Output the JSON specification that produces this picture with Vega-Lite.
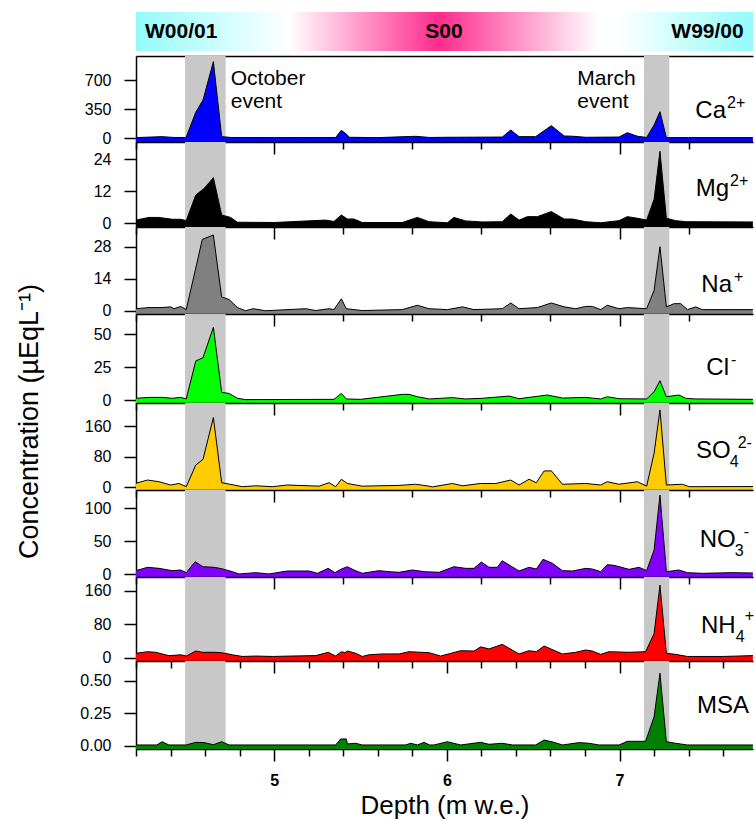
{
  "$schema": "https://vega.github.io/schema/vega-lite/v6.json",
  "padding": {"left": 14, "top": 12, "right": 0, "bottom": 2},
  "config": {
    "font": "Liberation Sans",
    "view": {"stroke": null},
    "axis": {"domainColor": "black", "domainWidth": 1.5, "tickColor": "black", "tickWidth": 1.5, "labelColor": "black", "labelFont": "Liberation Sans", "titleFont": "Liberation Sans", "titleColor": "black", "grid": false, "zindex": 1, "labelFontSize": 16, "titleFontWeight": "normal"},
    "text": {"font": "Liberation Sans", "color": "black"}
  },
  "datasets": {
    "events": [{"event": "October", "start": 4.484, "end": 4.719}, {"event": "March", "start": 7.141, "end": 7.288}],
    "ions": [
      {"ion":"Ca","depth":4.2,"conc":8},{"ion":"Ca","depth":4.35,"conc":20},{"ion":"Ca","depth":4.42,"conc":10},{"ion":"Ca","depth":4.49,"conc":10},{"ion":"Ca","depth":4.546,"conc":315},{"ion":"Ca","depth":4.588,"conc":463},{"ion":"Ca","depth":4.648,"conc":927},{"ion":"Ca","depth":4.696,"conc":20},{"ion":"Ca","depth":4.75,"conc":10},{"ion":"Ca","depth":5.0,"conc":8},{"ion":"Ca","depth":5.356,"conc":10},{"ion":"Ca","depth":5.389,"conc":97},{"ion":"Ca","depth":5.418,"conc":52},{"ion":"Ca","depth":5.435,"conc":12},{"ion":"Ca","depth":5.6,"conc":8},{"ion":"Ca","depth":5.82,"conc":24},{"ion":"Ca","depth":5.9,"conc":10},{"ion":"Ca","depth":6.0,"conc":12},{"ion":"Ca","depth":6.321,"conc":15},{"ion":"Ca","depth":6.37,"conc":100},{"ion":"Ca","depth":6.418,"conc":20},{"ion":"Ca","depth":6.514,"conc":20},{"ion":"Ca","depth":6.605,"conc":153},{"ion":"Ca","depth":6.679,"conc":28},{"ion":"Ca","depth":6.727,"conc":25},{"ion":"Ca","depth":6.804,"conc":12},{"ion":"Ca","depth":6.997,"conc":15},{"ion":"Ca","depth":7.045,"conc":68},{"ion":"Ca","depth":7.103,"conc":25},{"ion":"Ca","depth":7.157,"conc":10},{"ion":"Ca","depth":7.2,"conc":161},{"ion":"Ca","depth":7.234,"conc":322},{"ion":"Ca","depth":7.271,"conc":8},{"ion":"Ca","depth":7.4,"conc":8},{"ion":"Ca","depth":7.772,"conc":8},
      {"ion":"Mg","depth":4.2,"conc":1.2},{"ion":"Mg","depth":4.275,"conc":2.2},{"ion":"Mg","depth":4.333,"conc":2.2},{"ion":"Mg","depth":4.41,"conc":1.5},{"ion":"Mg","depth":4.459,"conc":1.5},{"ion":"Mg","depth":4.491,"conc":1.0},{"ion":"Mg","depth":4.546,"conc":10.6},{"ion":"Mg","depth":4.594,"conc":13},{"ion":"Mg","depth":4.648,"conc":17.1},{"ion":"Mg","depth":4.696,"conc":3.1},{"ion":"Mg","depth":4.748,"conc":2.2},{"ion":"Mg","depth":4.787,"conc":0.4},{"ion":"Mg","depth":5.0,"conc":0.3},{"ion":"Mg","depth":5.298,"conc":1.2},{"ion":"Mg","depth":5.346,"conc":0.7},{"ion":"Mg","depth":5.389,"conc":3.1},{"ion":"Mg","depth":5.424,"conc":1.6},{"ion":"Mg","depth":5.462,"conc":1.6},{"ion":"Mg","depth":5.51,"conc":0.3},{"ion":"Mg","depth":5.742,"conc":0.3},{"ion":"Mg","depth":5.829,"conc":2.2},{"ion":"Mg","depth":5.897,"conc":0.6},{"ion":"Mg","depth":6.003,"conc":0.2},{"ion":"Mg","depth":6.041,"conc":2.2},{"ion":"Mg","depth":6.109,"conc":0.9},{"ion":"Mg","depth":6.205,"conc":0.5},{"ion":"Mg","depth":6.321,"conc":0.6},{"ion":"Mg","depth":6.37,"conc":3.5},{"ion":"Mg","depth":6.418,"conc":1.2},{"ion":"Mg","depth":6.466,"conc":2.5},{"ion":"Mg","depth":6.524,"conc":2.5},{"ion":"Mg","depth":6.605,"conc":4.4},{"ion":"Mg","depth":6.679,"conc":1.6},{"ion":"Mg","depth":6.727,"conc":1.6},{"ion":"Mg","depth":6.804,"conc":0.6},{"ion":"Mg","depth":6.891,"conc":0.2},{"ion":"Mg","depth":6.997,"conc":1.0},{"ion":"Mg","depth":7.045,"conc":2.5},{"ion":"Mg","depth":7.103,"conc":1.9},{"ion":"Mg","depth":7.157,"conc":1.2},{"ion":"Mg","depth":7.2,"conc":9},{"ion":"Mg","depth":7.234,"conc":27},{"ion":"Mg","depth":7.271,"conc":1.9},{"ion":"Mg","depth":7.325,"conc":1.0},{"ion":"Mg","depth":7.383,"conc":0.6},{"ion":"Mg","depth":7.772,"conc":0.5},
      {"ion":"Na","depth":4.2,"conc":1.0},{"ion":"Na","depth":4.275,"conc":1.5},{"ion":"Na","depth":4.35,"conc":1.5},{"ion":"Na","depth":4.401,"conc":1.8},{"ion":"Na","depth":4.42,"conc":1.0},{"ion":"Na","depth":4.459,"conc":2.0},{"ion":"Na","depth":4.491,"conc":0.6},{"ion":"Na","depth":4.584,"conc":31.2},{"ion":"Na","depth":4.648,"conc":33.1},{"ion":"Na","depth":4.696,"conc":6.1},{"ion":"Na","depth":4.739,"conc":5.0},{"ion":"Na","depth":4.787,"conc":1.5},{"ion":"Na","depth":4.835,"conc":0.1},{"ion":"Na","depth":4.877,"conc":1.0},{"ion":"Na","depth":4.951,"conc":0.1},{"ion":"Na","depth":5.183,"conc":1.0},{"ion":"Na","depth":5.241,"conc":0.2},{"ion":"Na","depth":5.318,"conc":1.0},{"ion":"Na","depth":5.346,"conc":0.6},{"ion":"Na","depth":5.389,"conc":5.3},{"ion":"Na","depth":5.418,"conc":1.0},{"ion":"Na","depth":5.51,"conc":0.2},{"ion":"Na","depth":5.742,"conc":0.6},{"ion":"Na","depth":5.829,"conc":2.5},{"ion":"Na","depth":5.897,"conc":1.0},{"ion":"Na","depth":6.003,"conc":0.6},{"ion":"Na","depth":6.09,"conc":1.8},{"ion":"Na","depth":6.157,"conc":0.6},{"ion":"Na","depth":6.321,"conc":1.0},{"ion":"Na","depth":6.37,"conc":3.5},{"ion":"Na","depth":6.418,"conc":1.0},{"ion":"Na","depth":6.524,"conc":1.5},{"ion":"Na","depth":6.605,"conc":3.5},{"ion":"Na","depth":6.679,"conc":1.8},{"ion":"Na","depth":6.746,"conc":1.0},{"ion":"Na","depth":6.804,"conc":2.0},{"ion":"Na","depth":6.842,"conc":2.0},{"ion":"Na","depth":6.891,"conc":0.6},{"ion":"Na","depth":6.929,"conc":2.5},{"ion":"Na","depth":6.997,"conc":1.0},{"ion":"Na","depth":7.045,"conc":1.5},{"ion":"Na","depth":7.157,"conc":1.0},{"ion":"Na","depth":7.2,"conc":9.0},{"ion":"Na","depth":7.234,"conc":28},{"ion":"Na","depth":7.271,"conc":1.8},{"ion":"Na","depth":7.316,"conc":3.2},{"ion":"Na","depth":7.354,"conc":3.2},{"ion":"Na","depth":7.393,"conc":0.6},{"ion":"Na","depth":7.441,"conc":1.8},{"ion":"Na","depth":7.479,"conc":0.6},{"ion":"Na","depth":7.772,"conc":0.6},
      {"ion":"Cl","depth":4.2,"conc":1.3},{"ion":"Cl","depth":4.275,"conc":2.0},{"ion":"Cl","depth":4.35,"conc":2.0},{"ion":"Cl","depth":4.41,"conc":1.3},{"ion":"Cl","depth":4.459,"conc":2.0},{"ion":"Cl","depth":4.491,"conc":0.8},{"ion":"Cl","depth":4.546,"conc":29.7},{"ion":"Cl","depth":4.588,"conc":32.2},{"ion":"Cl","depth":4.648,"conc":55.3},{"ion":"Cl","depth":4.696,"conc":5.8},{"ion":"Cl","depth":4.739,"conc":5.0},{"ion":"Cl","depth":4.787,"conc":1.3},{"ion":"Cl","depth":4.835,"conc":0.3},{"ion":"Cl","depth":5.346,"conc":0.5},{"ion":"Cl","depth":5.389,"conc":5.0},{"ion":"Cl","depth":5.418,"conc":0.8},{"ion":"Cl","depth":5.5,"conc":0.5},{"ion":"Cl","depth":5.742,"conc":4.3},{"ion":"Cl","depth":5.781,"conc":4.3},{"ion":"Cl","depth":5.829,"conc":2.5},{"ion":"Cl","depth":5.9,"conc":0.8},{"ion":"Cl","depth":6.032,"conc":1.8},{"ion":"Cl","depth":6.109,"conc":0.8},{"ion":"Cl","depth":6.205,"conc":1.3},{"ion":"Cl","depth":6.36,"conc":3.0},{"ion":"Cl","depth":6.418,"conc":1.0},{"ion":"Cl","depth":6.582,"conc":3.8},{"ion":"Cl","depth":6.67,"conc":1.5},{"ion":"Cl","depth":6.804,"conc":2.0},{"ion":"Cl","depth":6.891,"conc":0.8},{"ion":"Cl","depth":6.929,"conc":2.5},{"ion":"Cl","depth":6.997,"conc":1.0},{"ion":"Cl","depth":7.157,"conc":0.8},{"ion":"Cl","depth":7.2,"conc":6.3},{"ion":"Cl","depth":7.234,"conc":14.7},{"ion":"Cl","depth":7.271,"conc":2.5},{"ion":"Cl","depth":7.344,"conc":3.8},{"ion":"Cl","depth":7.383,"conc":1.3},{"ion":"Cl","depth":7.441,"conc":0.8},{"ion":"Cl","depth":7.772,"conc":0.5},
      {"ion":"SO4","depth":4.2,"conc":10.4},{"ion":"SO4","depth":4.266,"conc":19},{"ion":"SO4","depth":4.333,"conc":14.6},{"ion":"SO4","depth":4.401,"conc":6},{"ion":"SO4","depth":4.449,"conc":10},{"ion":"SO4","depth":4.491,"conc":1.6},{"ion":"SO4","depth":4.546,"conc":58},{"ion":"SO4","depth":4.588,"conc":73},{"ion":"SO4","depth":4.648,"conc":182},{"ion":"SO4","depth":4.696,"conc":12},{"ion":"SO4","depth":4.767,"conc":6},{"ion":"SO4","depth":4.816,"conc":1.6},{"ion":"SO4","depth":4.893,"conc":4},{"ion":"SO4","depth":4.99,"conc":1.6},{"ion":"SO4","depth":5.076,"conc":6},{"ion":"SO4","depth":5.202,"conc":4},{"ion":"SO4","depth":5.26,"conc":3},{"ion":"SO4","depth":5.318,"conc":12},{"ion":"SO4","depth":5.356,"conc":1.6},{"ion":"SO4","depth":5.389,"conc":21},{"ion":"SO4","depth":5.424,"conc":10},{"ion":"SO4","depth":5.51,"conc":3},{"ion":"SO4","depth":5.607,"conc":4},{"ion":"SO4","depth":5.723,"conc":5},{"ion":"SO4","depth":5.819,"conc":8},{"ion":"SO4","depth":5.897,"conc":3},{"ion":"SO4","depth":5.916,"conc":1},{"ion":"SO4","depth":6.032,"conc":10},{"ion":"SO4","depth":6.09,"conc":4},{"ion":"SO4","depth":6.196,"conc":10},{"ion":"SO4","depth":6.283,"conc":10},{"ion":"SO4","depth":6.37,"conc":19},{"ion":"SO4","depth":6.418,"conc":6},{"ion":"SO4","depth":6.476,"conc":21},{"ion":"SO4","depth":6.518,"conc":12},{"ion":"SO4","depth":6.563,"conc":42.6},{"ion":"SO4","depth":6.605,"conc":43},{"ion":"SO4","depth":6.669,"conc":8},{"ion":"SO4","depth":6.804,"conc":10},{"ion":"SO4","depth":6.891,"conc":6},{"ion":"SO4","depth":6.929,"conc":14.6},{"ion":"SO4","depth":6.997,"conc":8},{"ion":"SO4","depth":7.103,"conc":14.6},{"ion":"SO4","depth":7.157,"conc":3},{"ion":"SO4","depth":7.2,"conc":89},{"ion":"SO4","depth":7.234,"conc":202},{"ion":"SO4","depth":7.271,"conc":6},{"ion":"SO4","depth":7.364,"conc":8},{"ion":"SO4","depth":7.402,"conc":1.6},{"ion":"SO4","depth":7.772,"conc":2},
      {"ion":"NO3","depth":4.2,"conc":5.5},{"ion":"NO3","depth":4.266,"conc":10.6},{"ion":"NO3","depth":4.333,"conc":9},{"ion":"NO3","depth":4.41,"conc":5.5},{"ion":"NO3","depth":4.459,"conc":6.5},{"ion":"NO3","depth":4.491,"conc":2.5},{"ion":"NO3","depth":4.542,"conc":19},{"ion":"NO3","depth":4.588,"conc":11.5},{"ion":"NO3","depth":4.652,"conc":10.6},{"ion":"NO3","depth":4.696,"conc":8.5},{"ion":"NO3","depth":4.758,"conc":4},{"ion":"NO3","depth":4.796,"conc":0.5},{"ion":"NO3","depth":4.893,"conc":2.5},{"ion":"NO3","depth":4.97,"conc":0.5},{"ion":"NO3","depth":5.076,"conc":5},{"ion":"NO3","depth":5.202,"conc":5},{"ion":"NO3","depth":5.25,"conc":1.5},{"ion":"NO3","depth":5.313,"conc":9},{"ion":"NO3","depth":5.352,"conc":2.5},{"ion":"NO3","depth":5.389,"conc":8},{"ion":"NO3","depth":5.424,"conc":11.5},{"ion":"NO3","depth":5.462,"conc":6.5},{"ion":"NO3","depth":5.51,"conc":1.5},{"ion":"NO3","depth":5.607,"conc":5.5},{"ion":"NO3","depth":5.665,"conc":4},{"ion":"NO3","depth":5.723,"conc":3},{"ion":"NO3","depth":5.8,"conc":6.5},{"ion":"NO3","depth":5.87,"conc":4},{"ion":"NO3","depth":5.955,"conc":3},{"ion":"NO3","depth":6.041,"conc":11.5},{"ion":"NO3","depth":6.109,"conc":9},{"ion":"NO3","depth":6.157,"conc":9},{"ion":"NO3","depth":6.2,"conc":18.6},{"ion":"NO3","depth":6.244,"conc":10.6},{"ion":"NO3","depth":6.292,"conc":10.6},{"ion":"NO3","depth":6.321,"conc":20.6},{"ion":"NO3","depth":6.37,"conc":12.6},{"ion":"NO3","depth":6.418,"conc":5},{"ion":"NO3","depth":6.476,"conc":10.6},{"ion":"NO3","depth":6.518,"conc":8},{"ion":"NO3","depth":6.557,"conc":22.7},{"ion":"NO3","depth":6.611,"conc":16.7},{"ion":"NO3","depth":6.669,"conc":5.5},{"ion":"NO3","depth":6.727,"conc":5},{"ion":"NO3","depth":6.804,"conc":9},{"ion":"NO3","depth":6.842,"conc":8},{"ion":"NO3","depth":6.891,"conc":4},{"ion":"NO3","depth":6.929,"conc":14.6},{"ion":"NO3","depth":6.968,"conc":13.6},{"ion":"NO3","depth":7.055,"conc":7.5},{"ion":"NO3","depth":7.113,"conc":10.6},{"ion":"NO3","depth":7.157,"conc":5.5},{"ion":"NO3","depth":7.2,"conc":36.8},{"ion":"NO3","depth":7.234,"conc":120},{"ion":"NO3","depth":7.271,"conc":4},{"ion":"NO3","depth":7.344,"conc":6.5},{"ion":"NO3","depth":7.393,"conc":2.5},{"ion":"NO3","depth":7.48,"conc":1.5},{"ion":"NO3","depth":7.65,"conc":2.5},{"ion":"NO3","depth":7.772,"conc":2},
      {"ion":"NH4","depth":4.2,"conc":10.5},{"ion":"NH4","depth":4.266,"conc":14.4},{"ion":"NH4","depth":4.314,"conc":13},{"ion":"NH4","depth":4.391,"conc":4.8},{"ion":"NH4","depth":4.459,"conc":7},{"ion":"NH4","depth":4.491,"conc":4},{"ion":"NH4","depth":4.546,"conc":16},{"ion":"NH4","depth":4.584,"conc":13},{"ion":"NH4","depth":4.652,"conc":13},{"ion":"NH4","depth":4.696,"conc":12},{"ion":"NH4","depth":4.758,"conc":7},{"ion":"NH4","depth":4.816,"conc":3},{"ion":"NH4","depth":4.893,"conc":4},{"ion":"NH4","depth":4.99,"conc":3},{"ion":"NH4","depth":5.1,"conc":4},{"ion":"NH4","depth":5.241,"conc":5},{"ion":"NH4","depth":5.313,"conc":13},{"ion":"NH4","depth":5.356,"conc":4},{"ion":"NH4","depth":5.389,"conc":14.4},{"ion":"NH4","depth":5.41,"conc":12},{"ion":"NH4","depth":5.424,"conc":16},{"ion":"NH4","depth":5.472,"conc":10.5},{"ion":"NH4","depth":5.51,"conc":3},{"ion":"NH4","depth":5.549,"conc":7},{"ion":"NH4","depth":5.626,"conc":9},{"ion":"NH4","depth":5.723,"conc":9},{"ion":"NH4","depth":5.781,"conc":14.4},{"ion":"NH4","depth":5.897,"conc":12},{"ion":"NH4","depth":5.964,"conc":4},{"ion":"NH4","depth":6.08,"conc":16.8},{"ion":"NH4","depth":6.157,"conc":16},{"ion":"NH4","depth":6.196,"conc":26},{"ion":"NH4","depth":6.244,"conc":21},{"ion":"NH4","depth":6.321,"conc":32},{"ion":"NH4","depth":6.418,"conc":9},{"ion":"NH4","depth":6.476,"conc":16.8},{"ion":"NH4","depth":6.518,"conc":14.4},{"ion":"NH4","depth":6.563,"conc":28},{"ion":"NH4","depth":6.669,"conc":9},{"ion":"NH4","depth":6.746,"conc":13},{"ion":"NH4","depth":6.804,"conc":18.5},{"ion":"NH4","depth":6.842,"conc":16},{"ion":"NH4","depth":6.891,"conc":8},{"ion":"NH4","depth":6.939,"conc":14.4},{"ion":"NH4","depth":7.055,"conc":13},{"ion":"NH4","depth":7.151,"conc":14.4},{"ion":"NH4","depth":7.2,"conc":58},{"ion":"NH4","depth":7.234,"conc":174},{"ion":"NH4","depth":7.271,"conc":10.5},{"ion":"NH4","depth":7.325,"conc":8},{"ion":"NH4","depth":7.393,"conc":3},{"ion":"NH4","depth":7.6,"conc":3},{"ion":"NH4","depth":7.772,"conc":5},
      {"ion":"MSA","depth":4.2,"conc":0.008},{"ion":"MSA","depth":4.32,"conc":0.008},{"ion":"MSA","depth":4.352,"conc":0.033},{"ion":"MSA","depth":4.39,"conc":0.008},{"ion":"MSA","depth":4.491,"conc":0.008},{"ion":"MSA","depth":4.546,"conc":0.028},{"ion":"MSA","depth":4.594,"conc":0.026},{"ion":"MSA","depth":4.648,"conc":0.01},{"ion":"MSA","depth":4.696,"conc":0.033},{"ion":"MSA","depth":4.739,"conc":0.008},{"ion":"MSA","depth":5.356,"conc":0.008},{"ion":"MSA","depth":5.385,"conc":0.054},{"ion":"MSA","depth":5.418,"conc":0.054},{"ion":"MSA","depth":5.424,"conc":0.016},{"ion":"MSA","depth":5.472,"conc":0.021},{"ion":"MSA","depth":5.51,"conc":0.008},{"ion":"MSA","depth":5.76,"conc":0.008},{"ion":"MSA","depth":5.791,"conc":0.021},{"ion":"MSA","depth":5.83,"conc":0.008},{"ion":"MSA","depth":5.868,"conc":0.028},{"ion":"MSA","depth":5.9,"conc":0.008},{"ion":"MSA","depth":5.926,"conc":0.008},{"ion":"MSA","depth":6.003,"conc":0.033},{"ion":"MSA","depth":6.08,"conc":0.008},{"ion":"MSA","depth":6.196,"conc":0.028},{"ion":"MSA","depth":6.244,"conc":0.013},{"ion":"MSA","depth":6.321,"conc":0.021},{"ion":"MSA","depth":6.38,"conc":0.008},{"ion":"MSA","depth":6.514,"conc":0.008},{"ion":"MSA","depth":6.563,"conc":0.046},{"ion":"MSA","depth":6.621,"conc":0.028},{"ion":"MSA","depth":6.669,"conc":0.008},{"ion":"MSA","depth":6.766,"conc":0.026},{"ion":"MSA","depth":6.824,"conc":0.021},{"ion":"MSA","depth":6.88,"conc":0.008},{"ion":"MSA","depth":6.997,"conc":0.008},{"ion":"MSA","depth":7.045,"conc":0.036},{"ion":"MSA","depth":7.151,"conc":0.036},{"ion":"MSA","depth":7.2,"conc":0.225},{"ion":"MSA","depth":7.234,"conc":0.56},{"ion":"MSA","depth":7.271,"conc":0.033},{"ion":"MSA","depth":7.325,"conc":0.021},{"ion":"MSA","depth":7.393,"conc":0.008},{"ion":"MSA","depth":7.772,"conc":0.008}
    ]
  },
  "bounds": "flush",
  "spacing": 5,
  "vconcat": [
    {
      "width": 617, "height": 39,
      "layer": [
        {"data": {"values": [{"band": "season"}]},
         "mark": {"type": "rect", "color": {"gradient": "linear", "x1": 0, "y1": 0, "x2": 1, "y2": 0, "stops": [{"offset": 0, "color": "#93fbfb"}, {"offset": 0.248, "color": "#ffffff"}, {"offset": 0.262, "color": "#fff3f8"}, {"offset": 0.491, "color": "#ff2b8e"}, {"offset": 0.75, "color": "#ffffff"}, {"offset": 0.78, "color": "#ffffff"}, {"offset": 1, "color": "#93fbfb"}]}},
         "encoding": {"x": {"datum": 4.2, "type": "quantitative", "scale": {"domain": [4.2, 7.7727], "nice": false, "zero": false}, "axis": null}, "x2": {"datum": 7.7727}}},
        {"data": {"values": [{"t": "W00/01"}]}, "mark": {"type": "text", "align": "left", "baseline": "middle", "fontSize": 21, "fontWeight": "bold"},
         "encoding": {"x": {"datum": 4.252, "type": "quantitative", "axis": null}, "text": {"field": "t"}}},
        {"data": {"values": [{"t": "S00"}]}, "mark": {"type": "text", "align": "center", "baseline": "middle", "fontSize": 21, "fontWeight": "bold"},
         "encoding": {"x": {"datum": 5.983, "type": "quantitative", "axis": null}, "text": {"field": "t"}}},
        {"data": {"values": [{"t": "W99/00"}]}, "mark": {"type": "text", "align": "right", "baseline": "middle", "fontSize": 21, "fontWeight": "bold"},
         "encoding": {"x": {"datum": 7.719, "type": "quantitative", "axis": null}, "text": {"field": "t"}}}
      ]
    },
    {
      "bounds": "flush",
      "spacing": 0,
      "vconcat": [
        {
          "width": 617, "height": 86,
          "layer": [
            {"data": {"name": "events"}, "mark": {"type": "rect", "color": "#c8c8c8"},
             "encoding": {"x": {"field": "start", "type": "quantitative", "scale": {"domain": [4.2, 7.7727], "nice": false, "zero": false}}, "x2": {"field": "end"}}},
            {"data": {"name": "ions"}, "transform": [{"filter": "datum.ion === 'Ca'"}],
             "mark": {"type": "area", "color": "#0000ff", "opacity": 1, "line": {"color": "black", "strokeWidth": 1}},
             "encoding": {
               "x": {"field": "depth", "type": "quantitative", "scale": {"domain": [4.2, 7.7727], "nice": false, "zero": false}, "axis": {"orient": "top", "ticks": false, "labels": false, "title": null}},
               "y": {"field": "conc", "type": "quantitative", "scale": {"domain": [-45, 996], "nice": false, "zero": false},
                     "axis": {"values": [0, 175, 350, 525, 700, 875], "tickSize": {"condition": {"test": "abs(datum.value/350 - round(datum.value/350)) < 1e-6", "value": 12}, "value": 6}, "labelExpr": "abs(datum.value/350 - round(datum.value/350)) < 1e-6 ? datum.label : ''", "labelPadding": 13, "title": null}},
               "y2": {"datum": -45}}},
            {"data": {"values": [{"t": "Ca"}]}, "mark": {"type": "text", "align": "right", "baseline": "alphabetic", "fontSize": 24},
             "encoding": {"x": {"datum": 7.6163, "type": "quantitative"}, "y": {"datum": 242, "type": "quantitative"}, "text": {"field": "t"}}},
            {"data": {"values": [{"t": "2+"}]}, "mark": {"type": "text", "align": "left", "baseline": "alphabetic", "fontSize": 16, "dx": 1, "dy": -10},
             "encoding": {"x": {"datum": 7.6163, "type": "quantitative"}, "y": {"datum": 242, "type": "quantitative"}, "text": {"field": "t"}}},
            {"data": {"values": [{"t": ["October", "event"]}]}, "mark": {"type": "text", "align": "left", "baseline": "alphabetic", "fontSize": 21, "lineHeight": 23.3},
             "encoding": {"x": {"datum": 4.7484, "type": "quantitative"}, "y": {"datum": 645, "type": "quantitative"}, "text": {"field": "t"}}},
            {"data": {"values": [{"t": ["March", "event"]}]}, "mark": {"type": "text", "align": "left", "baseline": "alphabetic", "fontSize": 21, "lineHeight": 23.3},
             "encoding": {"x": {"datum": 6.7553, "type": "quantitative"}, "y": {"datum": 645, "type": "quantitative"}, "text": {"field": "t"}}}
          ]
        },
        {
          "width": 617, "height": 85,
          "layer": [
            {"data": {"name": "events"}, "mark": {"type": "rect", "color": "#c8c8c8"},
             "encoding": {"x": {"field": "start", "type": "quantitative", "scale": {"domain": [4.2, 7.7727], "nice": false, "zero": false}}, "x2": {"field": "end"}}},
            {"data": {"name": "ions"}, "transform": [{"filter": "datum.ion === 'Mg'"}],
             "mark": {"type": "area", "color": "#000000", "opacity": 1, "line": {"color": "black", "strokeWidth": 1}},
             "encoding": {
               "x": {"field": "depth", "type": "quantitative", "scale": {"domain": [4.2, 7.7727], "nice": false, "zero": false}, "axis": {"orient": "top", "values": [4.2,4.4,4.6,4.8,5,5.2,5.4,5.6,5.8,6,6.2,6.4,6.6,6.8,7,7.2,7.4,7.6], "tickSize": {"condition": {"test": "abs(datum.value - round(datum.value)) < 0.001", "value": -12}, "value": -7}, "labels": false, "title": null}},
               "y": {"field": "conc", "type": "quantitative", "scale": {"domain": [-1.39, 30.48], "nice": false, "zero": false},
                     "axis": {"values": [0, 6, 12, 18, 24, 30], "tickSize": {"condition": {"test": "abs(datum.value/12 - round(datum.value/12)) < 1e-6", "value": 12}, "value": 6}, "labelExpr": "abs(datum.value/12 - round(datum.value/12)) < 1e-6 ? datum.label : ''", "labelPadding": 13, "title": null}},
               "y2": {"datum": -1.39}}},
            {"data": {"values": [{"t": "Mg"}]}, "mark": {"type": "text", "align": "right", "baseline": "alphabetic", "fontSize": 24},
             "encoding": {"x": {"datum": 7.634, "type": "quantitative"}, "y": {"datum": 10.2, "type": "quantitative"}, "text": {"field": "t"}}},
            {"data": {"values": [{"t": "2+"}]}, "mark": {"type": "text", "align": "left", "baseline": "alphabetic", "fontSize": 16, "dx": 1, "dy": -10},
             "encoding": {"x": {"datum": 7.634, "type": "quantitative"}, "y": {"datum": 10.2, "type": "quantitative"}, "text": {"field": "t"}}}
          ]
        },
        {
          "width": 617, "height": 87,
          "layer": [
            {"data": {"name": "events"}, "mark": {"type": "rect", "color": "#c8c8c8"},
             "encoding": {"x": {"field": "start", "type": "quantitative", "scale": {"domain": [4.2, 7.7727], "nice": false, "zero": false}}, "x2": {"field": "end"}}},
            {"data": {"name": "ions"}, "transform": [{"filter": "datum.ion === 'Na'"}],
             "mark": {"type": "area", "color": "#808080", "opacity": 1, "line": {"color": "black", "strokeWidth": 1}},
             "encoding": {
               "x": {"field": "depth", "type": "quantitative", "scale": {"domain": [4.2, 7.7727], "nice": false, "zero": false}, "axis": {"orient": "top", "values": [4.2,4.4,4.6,4.8,5,5.2,5.4,5.6,5.8,6,6.2,6.4,6.6,6.8,7,7.2,7.4,7.6], "tickSize": {"condition": {"test": "abs(datum.value - round(datum.value)) < 0.001", "value": -12}, "value": -7}, "labels": false, "title": null}},
               "y": {"field": "conc", "type": "quantitative", "scale": {"domain": [-1.31, 36.59], "nice": false, "zero": false},
                     "axis": {"values": [0, 7, 14, 21, 28, 35], "tickSize": {"condition": {"test": "abs(datum.value/14 - round(datum.value/14)) < 1e-6", "value": 12}, "value": 6}, "labelExpr": "abs(datum.value/14 - round(datum.value/14)) < 1e-6 ? datum.label : ''", "labelPadding": 13, "title": null}},
               "y2": {"datum": -1.31}}},
            {"data": {"values": [{"t": "Na"}]}, "mark": {"type": "text", "align": "right", "baseline": "alphabetic", "fontSize": 24},
             "encoding": {"x": {"datum": 7.651, "type": "quantitative"}, "y": {"datum": 8.4, "type": "quantitative"}, "text": {"field": "t"}}},
            {"data": {"values": [{"t": "+"}]}, "mark": {"type": "text", "align": "left", "baseline": "alphabetic", "fontSize": 16, "dx": 2, "dy": -10},
             "encoding": {"x": {"datum": 7.651, "type": "quantitative"}, "y": {"datum": 8.4, "type": "quantitative"}, "text": {"field": "t"}}}
          ]
        },
        {
          "width": 617, "height": 89,
          "layer": [
            {"data": {"name": "events"}, "mark": {"type": "rect", "color": "#c8c8c8"},
             "encoding": {"x": {"field": "start", "type": "quantitative", "scale": {"domain": [4.2, 7.7727], "nice": false, "zero": false}}, "x2": {"field": "end"}}},
            {"data": {"name": "ions"}, "transform": [{"filter": "datum.ion === 'Cl'"}],
             "mark": {"type": "area", "color": "#00ff00", "opacity": 1, "line": {"color": "black", "strokeWidth": 1}},
             "encoding": {
               "x": {"field": "depth", "type": "quantitative", "scale": {"domain": [4.2, 7.7727], "nice": false, "zero": false}, "axis": {"orient": "top", "values": [4.2,4.4,4.6,4.8,5,5.2,5.4,5.6,5.8,6,6.2,6.4,6.6,6.8,7,7.2,7.4,7.6], "tickSize": {"condition": {"test": "abs(datum.value - round(datum.value)) < 0.001", "value": -12}, "value": -7}, "labels": false, "title": null}},
               "y": {"field": "conc", "type": "quantitative", "scale": {"domain": [-2.28, 65.45], "nice": false, "zero": false},
                     "axis": {"values": [0, 12.5, 25, 37.5, 50, 62.5], "tickSize": {"condition": {"test": "abs(datum.value/25 - round(datum.value/25)) < 1e-6", "value": 12}, "value": 6}, "labelExpr": "abs(datum.value/25 - round(datum.value/25)) < 1e-6 ? datum.label : ''", "labelPadding": 13, "title": null}},
               "y2": {"datum": -2.28}}},
            {"data": {"values": [{"t": "Cl"}]}, "mark": {"type": "text", "align": "right", "baseline": "alphabetic", "fontSize": 24},
             "encoding": {"x": {"datum": 7.634, "type": "quantitative"}, "y": {"datum": 19, "type": "quantitative"}, "text": {"field": "t"}}},
            {"data": {"values": [{"t": "-"}]}, "mark": {"type": "text", "align": "left", "baseline": "alphabetic", "fontSize": 16, "dx": 2, "dy": -10},
             "encoding": {"x": {"datum": 7.634, "type": "quantitative"}, "y": {"datum": 19, "type": "quantitative"}, "text": {"field": "t"}}}
          ]
        },
        {
          "width": 617, "height": 87,
          "layer": [
            {"data": {"name": "events"}, "mark": {"type": "rect", "color": "#c8c8c8"},
             "encoding": {"x": {"field": "start", "type": "quantitative", "scale": {"domain": [4.2, 7.7727], "nice": false, "zero": false}}, "x2": {"field": "end"}}},
            {"data": {"name": "ions"}, "transform": [{"filter": "datum.ion === 'SO4'"}],
             "mark": {"type": "area", "color": "#ffcc00", "opacity": 1, "line": {"color": "black", "strokeWidth": 1}},
             "encoding": {
               "x": {"field": "depth", "type": "quantitative", "scale": {"domain": [4.2, 7.7727], "nice": false, "zero": false}, "axis": {"orient": "top", "values": [4.2,4.4,4.6,4.8,5,5.2,5.4,5.6,5.8,6,6.2,6.4,6.6,6.8,7,7.2,7.4,7.6], "tickSize": {"condition": {"test": "abs(datum.value - round(datum.value)) < 0.001", "value": -12}, "value": -7}, "labels": false, "title": null}},
               "y": {"field": "conc", "type": "quantitative", "scale": {"domain": [-7.05, 220.1], "nice": false, "zero": false},
                     "axis": {"values": [0, 40, 80, 120, 160, 200], "tickSize": {"condition": {"test": "abs(datum.value/80 - round(datum.value/80)) < 1e-6", "value": 12}, "value": 6}, "labelExpr": "abs(datum.value/80 - round(datum.value/80)) < 1e-6 ? datum.label : ''", "labelPadding": 13,
                              "title": "Concentration (µEqL⁻¹)", "titleFontSize": 27, "titleX": -107, "titleY": 18, "titleAngle": 270, "titleBaseline": "middle", "titleAlign": "center"}},
               "y2": {"datum": -7.05}}},
            {"data": {"values": [{"t": "SO"}]}, "mark": {"type": "text", "align": "right", "baseline": "alphabetic", "fontSize": 24},
             "encoding": {"x": {"datum": 7.6435, "type": "quantitative"}, "y": {"datum": 75.7, "type": "quantitative"}, "text": {"field": "t"}}},
            {"data": {"values": [{"t": "4"}]}, "mark": {"type": "text", "align": "left", "baseline": "alphabetic", "fontSize": 16, "dx": -1, "dy": 9},
             "encoding": {"x": {"datum": 7.6435, "type": "quantitative"}, "y": {"datum": 75.7, "type": "quantitative"}, "text": {"field": "t"}}},
            {"data": {"values": [{"t": "2-"}]}, "mark": {"type": "text", "align": "left", "baseline": "alphabetic", "fontSize": 16, "dx": 7, "dy": -10},
             "encoding": {"x": {"datum": 7.6435, "type": "quantitative"}, "y": {"datum": 75.7, "type": "quantitative"}, "text": {"field": "t"}}}
          ]
        },
        {
          "width": 617, "height": 87,
          "layer": [
            {"data": {"name": "events"}, "mark": {"type": "rect", "color": "#c8c8c8"},
             "encoding": {"x": {"field": "start", "type": "quantitative", "scale": {"domain": [4.2, 7.7727], "nice": false, "zero": false}}, "x2": {"field": "end"}}},
            {"data": {"name": "ions"}, "transform": [{"filter": "datum.ion === 'NO3'"}],
             "mark": {"type": "area", "color": "#8000ff", "opacity": 1, "line": {"color": "black", "strokeWidth": 1}},
             "encoding": {
               "x": {"field": "depth", "type": "quantitative", "scale": {"domain": [4.2, 7.7727], "nice": false, "zero": false}, "axis": {"orient": "top", "values": [4.2,4.4,4.6,4.8,5,5.2,5.4,5.6,5.8,6,6.2,6.4,6.6,6.8,7,7.2,7.4,7.6], "tickSize": {"condition": {"test": "abs(datum.value - round(datum.value)) < 0.001", "value": -12}, "value": -7}, "labels": false, "title": null}},
               "y": {"field": "conc", "type": "quantitative", "scale": {"domain": [-4.09, 127.7], "nice": false, "zero": false},
                     "axis": {"values": [0, 25, 50, 75, 100, 125], "tickSize": {"condition": {"test": "abs(datum.value/50 - round(datum.value/50)) < 1e-6", "value": 12}, "value": 6}, "labelExpr": "abs(datum.value/50 - round(datum.value/50)) < 1e-6 ? datum.label : ''", "labelPadding": 13, "title": null}},
               "y2": {"datum": -4.09}}},
            {"data": {"values": [{"t": "NO"}]}, "mark": {"type": "text", "align": "right", "baseline": "alphabetic", "fontSize": 24},
             "encoding": {"x": {"datum": 7.6725, "type": "quantitative"}, "y": {"datum": 41.8, "type": "quantitative"}, "text": {"field": "t"}}},
            {"data": {"values": [{"t": "3"}]}, "mark": {"type": "text", "align": "left", "baseline": "alphabetic", "fontSize": 16, "dx": -1, "dy": 9},
             "encoding": {"x": {"datum": 7.6725, "type": "quantitative"}, "y": {"datum": 41.8, "type": "quantitative"}, "text": {"field": "t"}}},
            {"data": {"values": [{"t": "-"}]}, "mark": {"type": "text", "align": "left", "baseline": "alphabetic", "fontSize": 16, "dx": 8, "dy": -10},
             "encoding": {"x": {"datum": 7.6725, "type": "quantitative"}, "y": {"datum": 41.8, "type": "quantitative"}, "text": {"field": "t"}}}
          ]
        },
        {
          "width": 617, "height": 84,
          "layer": [
            {"data": {"name": "events"}, "mark": {"type": "rect", "color": "#c8c8c8"},
             "encoding": {"x": {"field": "start", "type": "quantitative", "scale": {"domain": [4.2, 7.7727], "nice": false, "zero": false}}, "x2": {"field": "end"}}},
            {"data": {"name": "ions"}, "transform": [{"filter": "datum.ion === 'NH4'"}],
             "mark": {"type": "area", "color": "#ff0000", "opacity": 1, "line": {"color": "black", "strokeWidth": 1}},
             "encoding": {
               "x": {"field": "depth", "type": "quantitative", "scale": {"domain": [4.2, 7.7727], "nice": false, "zero": false}, "axis": {"orient": "top", "values": [4.2,4.4,4.6,4.8,5,5.2,5.4,5.6,5.8,6,6.2,6.4,6.6,6.8,7,7.2,7.4,7.6], "tickSize": {"condition": {"test": "abs(datum.value - round(datum.value)) < 0.001", "value": -12}, "value": -7}, "labels": false, "title": null}},
               "y": {"field": "conc", "type": "quantitative", "scale": {"domain": [-7.9, 193.5], "nice": false, "zero": false},
                     "axis": {"values": [0, 40, 80, 120, 160], "tickSize": {"condition": {"test": "abs(datum.value/80 - round(datum.value/80)) < 1e-6", "value": 12}, "value": 6}, "labelExpr": "abs(datum.value/80 - round(datum.value/80)) < 1e-6 ? datum.label : ''", "labelPadding": 13, "title": null}},
               "y2": {"datum": -7.9}}},
            {"data": {"values": [{"t": "NH"}]}, "mark": {"type": "text", "align": "right", "baseline": "alphabetic", "fontSize": 24},
             "encoding": {"x": {"datum": 7.6725, "type": "quantitative"}, "y": {"datum": 58.5, "type": "quantitative"}, "text": {"field": "t"}}},
            {"data": {"values": [{"t": "4"}]}, "mark": {"type": "text", "align": "left", "baseline": "alphabetic", "fontSize": 16, "dx": 0, "dy": 9},
             "encoding": {"x": {"datum": 7.6725, "type": "quantitative"}, "y": {"datum": 58.5, "type": "quantitative"}, "text": {"field": "t"}}},
            {"data": {"values": [{"t": "+"}]}, "mark": {"type": "text", "align": "left", "baseline": "alphabetic", "fontSize": 16, "dx": 9, "dy": -12},
             "encoding": {"x": {"datum": 7.6725, "type": "quantitative"}, "y": {"datum": 58.5, "type": "quantitative"}, "text": {"field": "t"}}}
          ]
        },
        {
          "width": 617, "height": 88,
          "resolve": {"axis": {"x": "independent"}},
          "layer": [
            {"data": {"name": "events"}, "mark": {"type": "rect", "color": "#c8c8c8"},
             "encoding": {"x": {"field": "start", "type": "quantitative", "scale": {"domain": [4.2, 7.7727], "nice": false, "zero": false}, "axis": {"orient": "top", "values": [4.2,4.4,4.6,4.8,5,5.2,5.4,5.6,5.8,6,6.2,6.4,6.6,6.8,7,7.2,7.4,7.6], "tickSize": {"condition": {"test": "abs(datum.value - round(datum.value)) < 0.001", "value": -12}, "value": -7}, "labels": false, "title": null}}, "x2": {"field": "end"}}},
            {"data": {"name": "ions"}, "transform": [{"filter": "datum.ion === 'MSA'"}],
             "mark": {"type": "area", "color": "#008000", "opacity": 1, "line": {"color": "black", "strokeWidth": 1}},
             "encoding": {
               "x": {"field": "depth", "type": "quantitative", "scale": {"domain": [4.2, 7.7727], "nice": false, "zero": false},
                     "axis": {"orient": "bottom", "values": [4.2,4.4,4.6,4.8,5,5.2,5.4,5.6,5.8,6,6.2,6.4,6.6,6.8,7,7.2,7.4,7.6], "tickSize": {"condition": {"test": "abs(datum.value - round(datum.value)) < 0.001", "value": 12}, "value": 7}, "labelExpr": "abs(datum.value - round(datum.value)) < 0.001 ? format(datum.value, 'd') : ''", "labelFontSize": 16, "labelFontWeight": "bold", "labelPadding": 11, "title": "Depth (m w.e.)", "titleFontSize": 26, "titlePadding": 4}},
               "y": {"field": "conc", "type": "quantitative", "scale": {"domain": [-0.0231, 0.6538], "nice": false, "zero": false},
                     "axis": {"values": [0, 0.125, 0.25, 0.375, 0.5, 0.625], "format": ".2f", "tickSize": {"condition": {"test": "abs(datum.value/0.25 - round(datum.value/0.25)) < 1e-6", "value": 12}, "value": 6}, "labelExpr": "abs(datum.value/0.25 - round(datum.value/0.25)) < 1e-6 ? datum.label : ''", "labelPadding": 13, "title": null}},
               "y2": {"datum": -0.0231}}},
            {"data": {"values": [{"t": "MSA"}]}, "mark": {"type": "text", "align": "right", "baseline": "alphabetic", "fontSize": 24},
             "encoding": {"x": {"datum": 7.7495, "type": "quantitative", "axis": null}, "y": {"datum": 0.2515, "type": "quantitative"}, "text": {"field": "t"}}}
          ]
        }
      ]
    }
  ]
}
